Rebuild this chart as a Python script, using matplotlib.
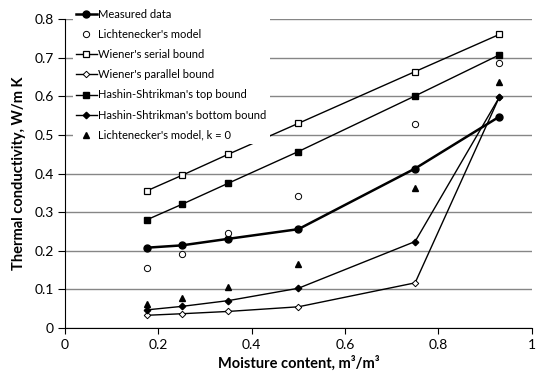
import matplotlib
matplotlib.use('Agg')
import matplotlib.pyplot as plt
import numpy as np

plt.rcParams['font.family'] = ['Lato', 'DejaVu Sans']

moisture = [0.175, 0.25, 0.35, 0.5, 0.75, 0.93]

measured = [0.208, 0.214, 0.231, 0.256, 0.413, 0.547]
lichtenecker = [0.155, 0.192, 0.247, 0.342, 0.527, 0.685]
wiener_serial = [0.355, 0.395, 0.450, 0.530, 0.664, 0.760]
wiener_parallel = [0.033, 0.037, 0.043, 0.055, 0.117, 0.597]
hs_top = [0.280, 0.320, 0.375, 0.457, 0.601, 0.707]
hs_bottom = [0.047, 0.056, 0.071, 0.103, 0.224, 0.597]
lichtenecker_k0 = [0.062, 0.078, 0.105, 0.167, 0.363, 0.637]

xticks = [0, 0.2, 0.4, 0.6, 0.8, 1]
xtick_labels = ['0', '0.2', '0.4', '0.6', '0.8', '1']
yticks = [0, 0.1, 0.2, 0.3, 0.4, 0.5, 0.6, 0.7, 0.8]
ytick_labels = ['0', '0.1', '0.2', '0.3', '0.4', '0.5', '0.6', '0.7', '0.8']

fig = plt.figure(figsize=(5.5, 3.81), dpi=100)
ax = fig.add_axes([0.118, 0.139, 0.849, 0.811])

ax.plot(moisture, measured, '-o', color='black', lw=1.8, ms=5,
        label='Measured data', zorder=5)
ax.plot(moisture, lichtenecker, 'o', color='black', mfc='white', mew=0.7,
        ms=4.5, label="Lichtenecker's model", zorder=5)
ax.plot(moisture, wiener_serial, '-s', color='black', mfc='white', mew=0.9,
        lw=1.0, ms=5, label="Wiener's serial bound", zorder=5)
ax.plot(moisture, wiener_parallel, '-D', color='black', mfc='white', mew=0.7,
        lw=1.0, ms=3.3, label="Wiener's parallel bound", zorder=5)
ax.plot(moisture, hs_top, '-s', color='black', lw=1.0, ms=5,
        label="Hashin-Shtrikman's top bound", zorder=5)
ax.plot(moisture, hs_bottom, '-D', color='black', lw=1.0, ms=3.3,
        label="Hashin-Shtrikman's bottom bound", zorder=5)
ax.plot(moisture, lichtenecker_k0, '^', color='black', ms=4.5,
        label="Lichtenecker's model, k = 0", zorder=5)

ax.set_xlim(0, 1)
ax.set_ylim(0, 0.8)
ax.set_xticks(xticks)
ax.set_xticklabels(xtick_labels)
ax.set_yticks(yticks)
ax.set_yticklabels(ytick_labels)
ax.yaxis.grid(True, color='#868686', lw=1.0)
ax.set_axisbelow(True)
for s in ['top', 'right']:
    ax.spines[s].set_visible(False)
ax.tick_params(axis='x', direction='out', length=4, labelsize=10, pad=4)
ax.tick_params(axis='y', direction='out', length=5, labelsize=10, pad=3)

ax.set_xlabel('Moisture content, m³/m³', fontsize=10.5, fontweight='bold', labelpad=3)
ax.set_ylabel('Thermal conductivity, W/m K', fontsize=10.5, fontweight='bold', labelpad=6)

leg = fig.legend(loc='upper left', bbox_to_anchor=(0.132, 0.985), frameon=True,
                 facecolor='white', edgecolor='none', fancybox=False, framealpha=1,
                 fontsize=8, handlelength=1.9, handletextpad=0.1,
                 labelspacing=0.82, borderpad=0.3, borderaxespad=0)
leg.set_zorder(10)

fig.savefig('out.png', dpi=100)
